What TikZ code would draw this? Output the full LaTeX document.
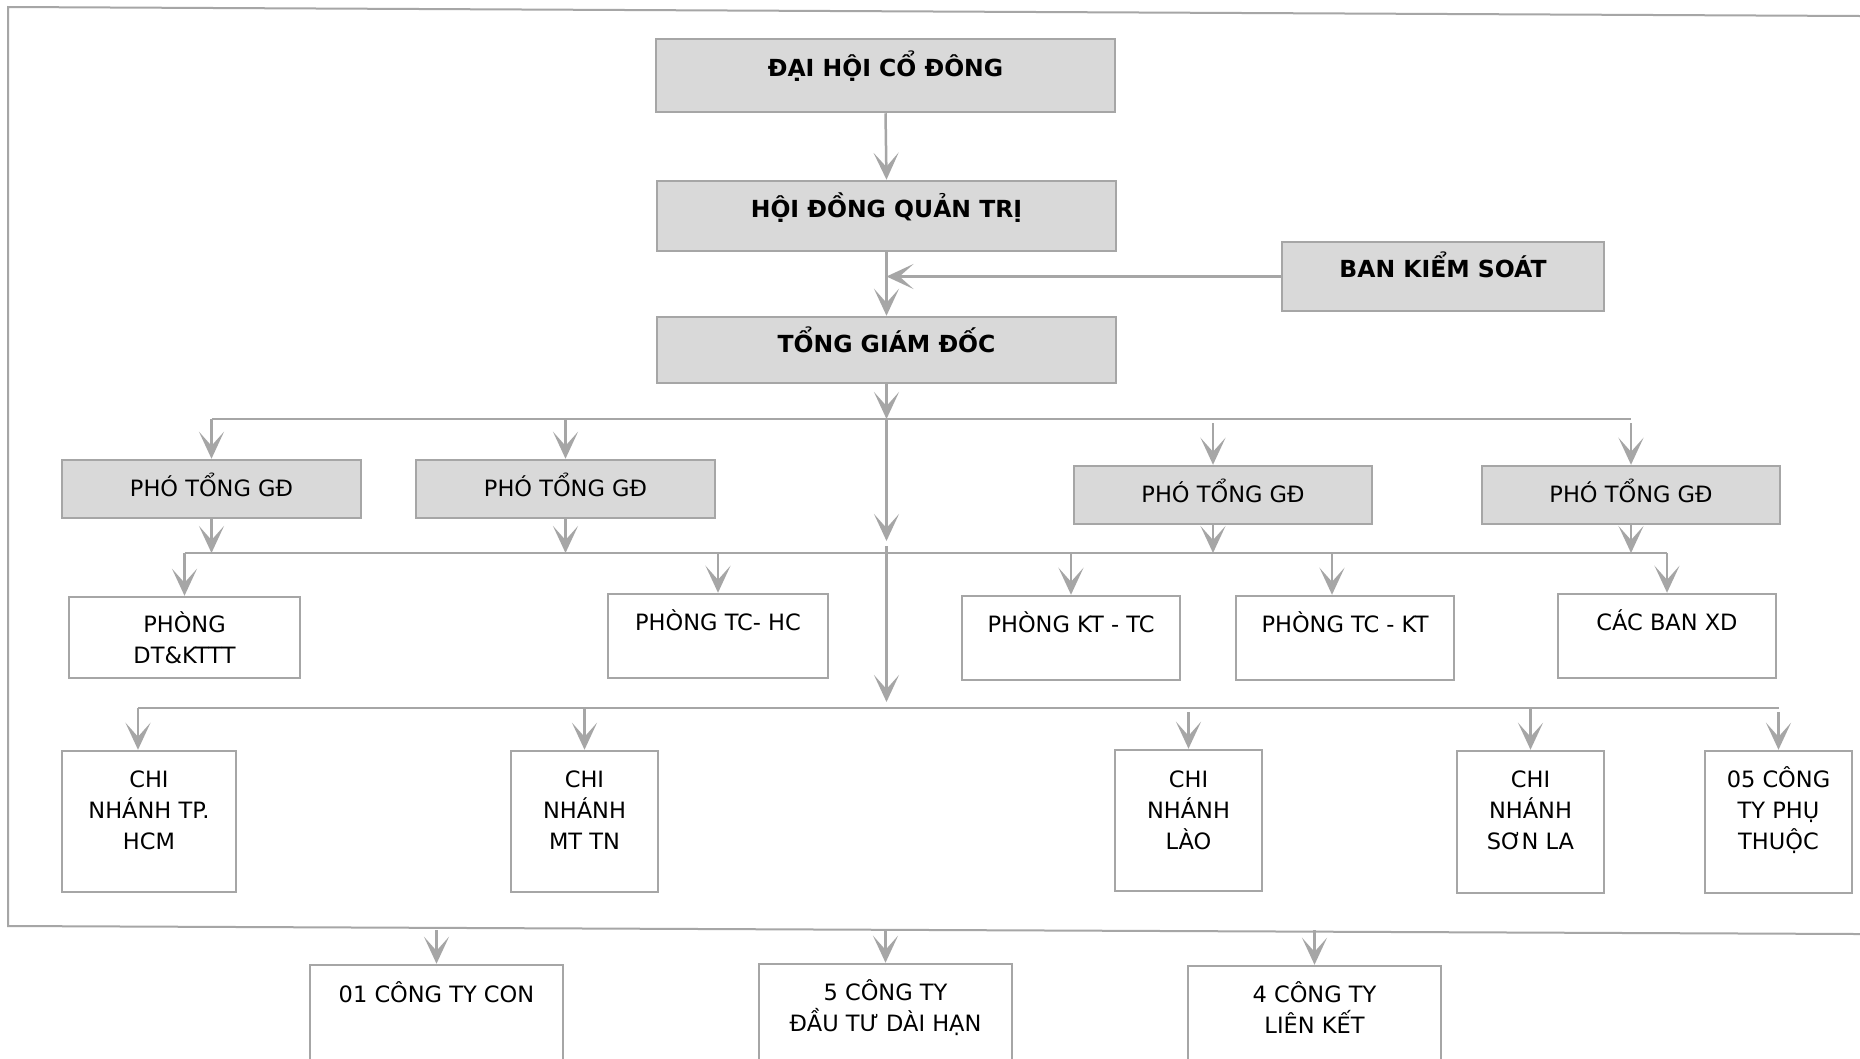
\documentclass[tikz,border=0pt]{standalone}
\usepackage{fontspec}
\setmainfont{DejaVu Sans}
\usetikzlibrary{arrows.meta}
\definecolor{boxgray}{HTML}{D9D9D9}
\definecolor{linegray}{HTML}{A6A6A6}

\begin{document}
\begin{tikzpicture}[x=1pt, y=-1pt, >={Stealth[length=27pt, width=25pt, inset=14pt]},
    font=\fontsize{22.5}{31}\selectfont,
    box/.style={draw=linegray, line width=2.5pt, align=center, inner xsep=4pt, inner ysep=0pt},
    graybox/.style={box, fill=boxgray},
    headbox/.style={graybox, font=\bfseries\fontsize{23.5}{31}\selectfont},
    link/.style={draw=linegray, line width=2.5pt},
    arrow/.style={link, ->}]

    % Page
    \useasboundingbox (0,0) rectangle (1860,1058);
    \clip (0,0) rectangle (1860,1058);
    \fill[white] (0,0) rectangle (1860,1058);

    % Outer frame
    \draw[linegray, line width=2pt] (1880,16.1) -- (8,7) -- (8,926) -- (1880,934.1);

    % Top management
    \node[headbox, minimum width=459pt, text height=37pt, text depth=36pt] (dhcd) at (885.5,75.5) {ĐẠI HỘI CỔ ĐÔNG};
    \node[headbox, minimum width=459pt, text height=36pt, text depth=34pt] (hdqt) at (886.5,216) {HỘI ĐỒNG QUẢN TRỊ};
    \node[headbox, minimum width=322pt, text height=35.5pt, text depth=33.5pt] (bks) at (1443,276.5) {BAN KIỂM SOÁT};
    \node[headbox, minimum width=459pt, text height=35pt, text depth=31pt] (tgd) at (886.5,350) {TỔNG GIÁM ĐỐC};

    % Deputies
    \node[graybox, minimum width=299pt, text height=36pt, text depth=22pt] (ptgd1) at (211.5,489) {PHÓ TỔNG GĐ};
    \node[graybox, minimum width=299pt, text height=36pt, text depth=22pt] (ptgd2) at (565.5,489) {PHÓ TỔNG GĐ};
    \node[graybox, minimum width=298pt, text height=36pt, text depth=22pt] (ptgd3) at (1223,495) {PHÓ TỔNG GĐ};
    \node[graybox, minimum width=298pt, text height=36pt, text depth=22pt] (ptgd4) at (1631,495) {PHÓ TỔNG GĐ};

    % Departments
    \node[box, minimum width=231pt, text height=66pt, text depth=15pt] (pdt) at (184.5,637.5) {PHÒNG\\DT\&KTTT};
    \node[box, minimum width=220pt, text height=36pt, text depth=48pt] (ptchc) at (718,636) {PHÒNG TC- HC};
    \node[box, minimum width=218pt, text height=36pt, text depth=48pt] (pkttc) at (1071,638) {PHÒNG KT - TC};
    \node[box, minimum width=218pt, text height=36pt, text depth=48pt] (ptckt) at (1345,638) {PHÒNG TC - KT};
    \node[box, minimum width=218pt, text height=36pt, text depth=48pt] (cbxd) at (1667,636) {CÁC BAN XD};

    % Branches
    \node[box, minimum width=174pt, text height=98pt, text depth=43pt] (cnhcm) at (149,821.5) {CHI\\NHÁNH TP.\\HCM};
    \node[box, minimum width=147pt, text height=98pt, text depth=43pt] (cnmttn) at (584.5,821.5) {CHI\\NHÁNH\\MT TN};
    \node[box, minimum width=147pt, text height=99pt, text depth=42pt] (cnlao) at (1188.5,820.5) {CHI\\NHÁNH\\LÀO};
    \node[box, minimum width=147pt, text height=98pt, text depth=44pt] (cnsonla) at (1530.5,822) {CHI\\NHÁNH\\SƠN LA};
    \node[box, minimum width=147pt, text height=98pt, text depth=44pt] (ctpt) at (1778.5,822) {05 CÔNG\\TY PHỤ\\THUỘC};

    % Companies outside the frame
    \node[box, minimum width=253pt, text height=37pt, text depth=93pt] (ctcon) at (436.5,1030) {01 CÔNG TY CON};
    \node[box, minimum width=253pt, text height=67pt, text depth=63pt] (ctdt) at (885.5,1029) {5 CÔNG TY\\ĐẦU TƯ DÀI HẠN};
    \node[box, minimum width=253pt, text height=67pt, text depth=63pt] (ctlk) at (1314.5,1031) {4 CÔNG TY\\LIÊN KẾT};

    % Bus levels
    \coordinate (bus1) at (886.5,419);
    \coordinate (bus2) at (886.5,553);
    \coordinate (bus3) at (886.5,708);
    \coordinate (trunka) at (886.5,541);
    \coordinate (trunkb) at (886.5,546);
    \coordinate (trunkc) at (886.5,702);
    \coordinate (fbot) at (0,930);

    % Off-centre entry points
    \coordinate (ptgd3in) at ([xshift=-10pt]ptgd3.north);
    \coordinate (ptgd3out) at ([xshift=-10pt]ptgd3.south);
    \coordinate (ptcktin) at ([xshift=-13pt]ptckt.north);
    \coordinate (cnhcmin) at ([xshift=-11pt]cnhcm.north);

    % Top chain
    \draw[arrow] (dhcd.south) -- (hdqt.north);
    \draw[arrow] (hdqt.south) -- (tgd.north);
    \draw[arrow] (bks.west) -- (bks.west -| tgd.north);
    \draw[arrow] (tgd.south) -- (bus1);
    \draw[arrow] (bus1) -- (trunka);
    \draw[arrow] (trunkb) -- (trunkc);

    % Deputies bus
    \draw[link] (ptgd1.north |- bus1) -- (ptgd4.north |- bus1);
    \draw[arrow] (ptgd1.north |- bus1) -- (ptgd1.north);
    \draw[arrow] (ptgd2.north |- bus1) -- (ptgd2.north);
    \draw[arrow, shorten <=4pt] (ptgd3in |- bus1) -- (ptgd3in);
    \draw[arrow, shorten <=4pt] (ptgd4.north |- bus1) -- (ptgd4.north);

    % Departments bus
    \draw[arrow] (ptgd1.south) -- (ptgd1.south |- bus2);
    \draw[arrow] (ptgd2.south) -- (ptgd2.south |- bus2);
    \draw[arrow] (ptgd3out) -- (ptgd3out |- bus2);
    \draw[arrow] (ptgd4.south) -- (ptgd4.south |- bus2);
    \draw[link] (pdt.north |- bus2) -- (cbxd.north |- bus2);
    \draw[arrow] (pdt.north |- bus2) -- (pdt.north);
    \draw[arrow] (ptchc.north |- bus2) -- (ptchc.north);
    \draw[arrow] (pkttc.north |- bus2) -- (pkttc.north);
    \draw[arrow] (ptcktin |- bus2) -- (ptcktin);
    \draw[arrow] (cbxd.north |- bus2) -- (cbxd.north);

    % Branches bus
    \draw[link] (cnhcmin |- bus3) -- (ctpt.north |- bus3);
    \draw[arrow] (cnhcmin |- bus3) -- (cnhcmin);
    \draw[arrow] (cnmttn.north |- bus3) -- (cnmttn.north);
    \draw[arrow, shorten <=4pt] (cnlao.north |- bus3) -- (cnlao.north);
    \draw[arrow] (cnsonla.north |- bus3) -- (cnsonla.north);
    \draw[arrow, shorten <=4pt] (ctpt.north |- bus3) -- (ctpt.north);

    % Below the frame
    \draw[arrow] (ctcon.north |- fbot) -- (ctcon.north);
    \draw[arrow] (ctdt.north |- fbot) -- (ctdt.north);
    \draw[arrow] (ctlk.north |- fbot) -- (ctlk.north);

\end{tikzpicture}
\end{document}
